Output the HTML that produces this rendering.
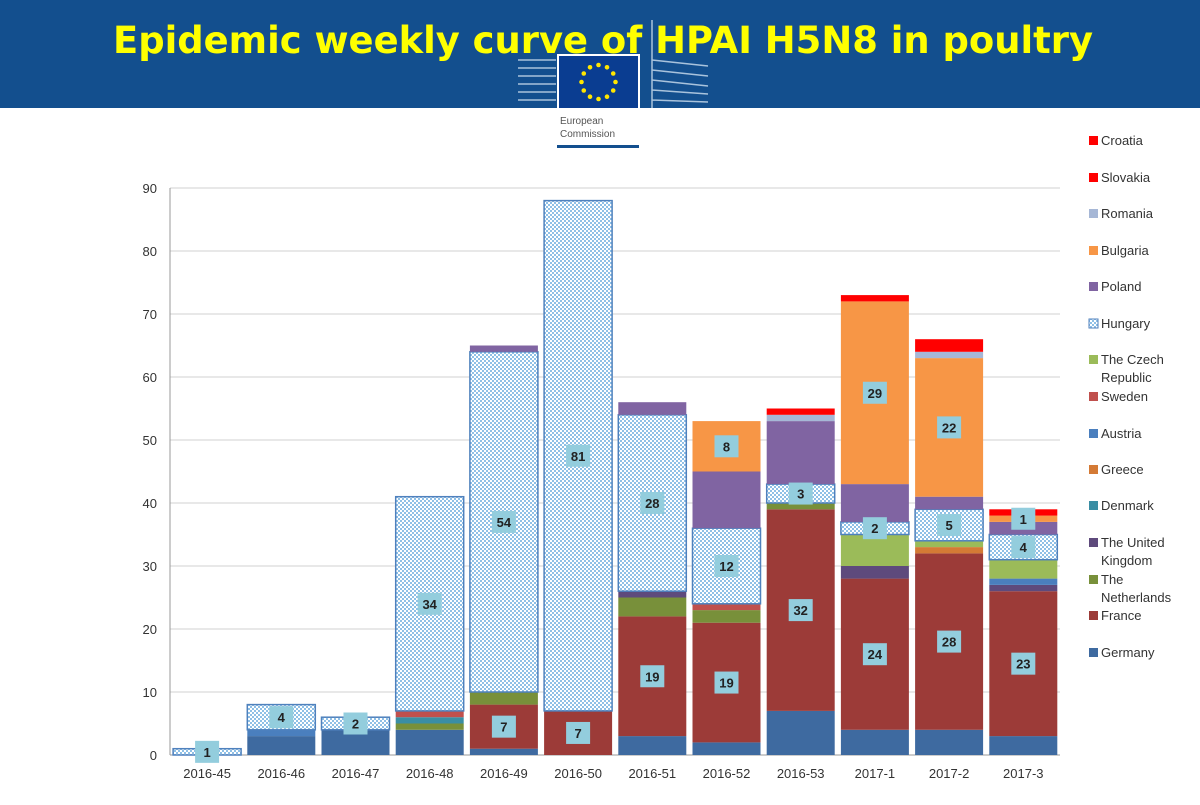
<!DOCTYPE html>
<html><head><meta charset="utf-8"><style>
body{margin:0;width:1200px;height:800px;overflow:hidden;background:#fff;font-family:"Liberation Sans",sans-serif}
</style></head><body>
<svg id="s" width="1200" height="800" xmlns="http://www.w3.org/2000/svg" font-family="Liberation Sans, sans-serif">
<defs>
<pattern id="hu" width="4" height="4" patternUnits="userSpaceOnUse">
<rect width="4" height="4" fill="#fff"/><rect width="2" height="2" fill="#8fc0e6"/><rect x="2" y="2" width="2" height="2" fill="#8fc0e6"/>
</pattern>
</defs>
<rect x="0" y="0" width="1200" height="108" fill="#134f8e"/>
<g stroke="#cfe0f0" stroke-width="1.5" opacity="0.8">
<path d="M518 60 L556 60 M518 68 L556 68 M518 76 L556 76 M518 84 L556 84 M518 92 L556 92 M518 100 L556 100"/>
<path d="M652 20 L652 108 M652 60 L708 66 M652 70 L708 76 M652 80 L708 86 M652 90 L708 94 M652 100 L708 102"/>
</g>
<rect x="557" y="54" width="83" height="56" fill="#fff"/>
<rect x="559" y="56" width="79" height="52" fill="#0a3d91"/>
<g id="stars" fill="#ffe600"></g>
<text x="560" y="124" font-size="10" fill="#555">European</text>
<text x="560" y="137" font-size="10" fill="#555">Commission</text>
<rect x="557" y="145" width="82" height="3" fill="#134f8e"/>
<text x="603" y="53" text-anchor="middle" font-size="37" font-weight="bold" fill="#ffff00" font-family="DejaVu Sans, sans-serif" textLength="980" lengthAdjust="spacingAndGlyphs">Epidemic weekly curve of HPAI H5N8 in poultry</text>
<g id="grid"></g>
<g id="bars"></g>
<g id="leg"></g>
</svg>
<script>
const NS="http://www.w3.org/2000/svg";
function el(p,t,a,txt){const e=document.createElementNS(NS,t);for(const k in a)e.setAttribute(k,a[k]);if(txt!=null)e.textContent=txt;p.appendChild(e);return e;}
const st=document.getElementById('stars');
for(let i=0;i<12;i++){const a=i*Math.PI/6;el(st,'circle',{cx:598.5+17*Math.sin(a),cy:82-17*Math.cos(a),r:2.3});}
const g=document.getElementById('grid');
const y0=755,k=6.3,x0=170,x1=1060,cw=74.2;
for(let v=0;v<=90;v+=10){const y=y0-v*k;el(g,'line',{x1:x0,x2:x1,y1:y,y2:y,stroke:'#d0d0d0','stroke-width':1});
el(g,'text',{x:157,y:y+5,'text-anchor':'end','font-size':13,fill:'#333'},v);}
el(g,'line',{x1:x0,x2:x0,y1:188,y2:y0,stroke:'#999'});
el(g,'line',{x1:x0,x2:x1,y1:y0,y2:y0,stroke:'#999'});
const C={Ge:'#3e6aa0',Fr:'#9c3b38',Nl:'#78903a',Uk:'#5e4a7c',Dk:'#3a8ea4',Gr:'#d47a35',At:'#4a7fbe',Se:'#c0504d',Cz:'#9bbb59',Hu:'url(#hu)',Po:'#8064a2',Bu:'#f79646',Ro:'#a6b7d6',Sk:'#ff0000',Cr:'#ff0000'};
const order=['Ge','Fr','Nl','Uk','Dk','Gr','At','Se','Cz','Hu','Po','Bu','Ro','Sk','Cr'];
const D=[
['2016-45',{Hu:1}],
['2016-46',{Ge:3,At:1,Hu:4}],
['2016-47',{Ge:4,Hu:2}],
['2016-48',{Ge:4,Nl:1,Dk:1,Se:1,Hu:34}],
['2016-49',{Ge:1,Fr:7,Nl:2,Hu:54,Po:1}],
['2016-50',{Fr:7,Hu:81}],
['2016-51',{Ge:3,Fr:19,Nl:3,Uk:1,Hu:28,Po:2}],
['2016-52',{Ge:2,Fr:19,Nl:2,Se:1,Hu:12,Po:9,Bu:8}],
['2016-53',{Ge:7,Fr:32,Nl:1,Hu:3,Po:10,Ro:1,Sk:1}],
['2017-1',{Ge:4,Fr:24,Uk:2,Cz:5,Hu:2,Po:6,Bu:29,Cr:1}],
['2017-2',{Ge:4,Fr:28,Gr:1,Cz:1,Hu:5,Po:2,Bu:22,Ro:1,Sk:2}],
['2017-3',{Ge:3,Fr:23,Uk:1,At:1,Cz:3,Hu:4,Po:2,Bu:1,Sk:1}]];
const b=document.getElementById('bars');const labs=[];
D.forEach((d,i)=>{const cx=x0+cw*(i+0.5),bw=68;let acc=0;
el(b,'text',{x:cx,y:778,'text-anchor':'middle','font-size':13,fill:'#333'},d[0]);
order.forEach(c=>{const v=d[1][c];if(!v)return;const yt=y0-(acc+v)*k,h=v*k;
const a={x:cx-bw/2,y:yt,width:bw,height:h,fill:C[c]};if(c=='Hu'){a.stroke='#4f81bd';a['stroke-width']=1.5;}
el(b,'rect',a);
if(c=='Fr'||c=='Hu'||c=='Bu')labs.push([cx,yt+h/2,v]);acc+=v;});});
labs.forEach(l=>{el(b,'rect',{x:l[0]-12,y:l[1]-11,width:24,height:22,fill:'#93cddd'});
el(b,'text',{x:l[0],y:l[1]+5,'text-anchor':'middle','font-size':13,'font-weight':'bold',fill:'#222'},l[2]);});
const L=[['Croatia','Cr',141],['Slovakia','Sk',178],['Romania','Ro',214],['Bulgaria','Bu',251],['Poland','Po',287],['Hungary','Hu',324],['The Czech|Republic','Cz',360],['Sweden','Se',397],['Austria','At',434],['Greece','Gr',470],['Denmark','Dk',506],['The United|Kingdom','Uk',543],['The|Netherlands','Nl',580],['France','Fr',616],['Germany','Ge',653]];
const lg=document.getElementById('leg');
L.forEach(l=>{const a={x:1089,y:l[2]-5,width:9,height:9,fill:C[l[1]]};if(l[1]=='Hu'){a.stroke='#4f81bd';}
el(lg,'rect',a);l[0].split('|').forEach((t,j)=>el(lg,'text',{x:1101,y:l[2]+4+j*18,'font-size':13,fill:'#333'},t));});
</script>
</body></html>
